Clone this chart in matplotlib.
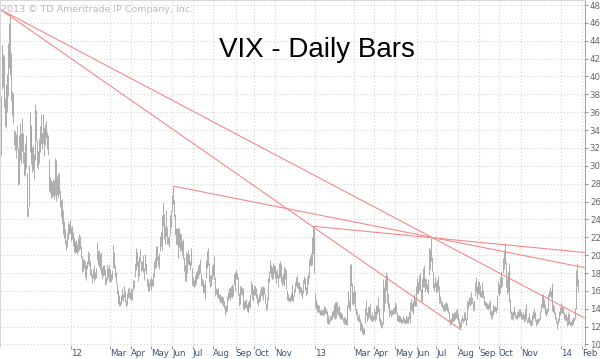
import numpy as np
import pandas as pd
import matplotlib
matplotlib.use("Agg")
import matplotlib.pyplot as plt

# trading calendar of the chart (NYSE closed days inside the range)
first_day = "2011-09-20"
last_axis_day = "2014-02-07"
holidays = ["2011-11-24", "2011-12-26", "2012-01-02", "2012-01-16", "2012-02-20",
            "2012-04-06", "2012-05-28", "2012-07-04", "2012-09-03", "2012-10-29",
            "2012-10-30", "2012-11-22", "2012-12-25", "2013-01-01", "2013-01-21",
            "2013-02-18", "2013-03-29", "2013-05-27", "2013-07-04", "2013-09-02",
            "2013-11-28", "2013-12-25", "2014-01-01", "2014-01-20"]

# daily VIX highs, one row per month
highs = [
    33.5, 37.8, 43.5, 42.5, 42.3, 37.6, 39.2, 40.3, 43.8,  # 2011 Sep
    46.0, 46.9, 42.6, 38.4, 38.2, 34.0, 33.9, 33.6, 34.5, 32.0, 33.5, 34.8, 33.7, 35.4, 33.7, 31.5, 32.5, 33.4, 29.2, 25.3, 30.1,
    36.0, 34.5, 34.6, 32.1, 32.3, 31.3, 36.9, 36.3, 32.9, 31.7, 33.1, 34.5, 35.8, 33.7, 35.8, 34.2, 34.7, 35.0, 33.8, 33.4, 30.8,
    28.7, 28.4, 28.2, 28.5, 28.4, 30.9, 30.7, 28.9, 29.2, 29.2, 27.3, 26.2, 26.3, 25.1, 23.8, 22.9, 21.7, 22.5, 23.7, 23.5, 23.9,
    23.2, 23.3, 22.6, 21.9, 21.6, 21.2, 21.7, 21.3, 21.9, 22.4, 22.1, 21.0, 19.9, 19.6, 19.6, 19.3, 18.9, 19.4, 20.5, 20.2,  # 2012 Jan
    19.3, 18.5, 17.9, 18.4, 18.9, 18.1, 18.6, 21.5, 20.5, 20.6, 20.1, 20.3, 18.7, 18.9, 18.9, 18.5, 17.5, 19.0, 18.6, 18.9,
    18.4, 17.9, 18.3, 21.1, 20.4, 18.9, 18.1, 16.9, 16.1, 15.7, 15.5, 14.9, 15.5, 16.3, 15.6, 16.5, 16.0, 15.0, 15.8, 16.3, 16.4, 15.9,
    16.3, 16.2, 17.2, 17.2, 19.1, 20.8, 20.3, 19.3, 19.8, 20.7, 19.3, 19.4, 20.0, 18.6, 20.1, 19.1, 17.4, 17.3, 16.9, 17.3,
    17.6, 17.3, 18.0, 19.4, 19.7, 21.0, 21.0, 19.9, 20.2, 22.1, 22.6, 22.6, 24.5, 25.9, 24.6, 23.3, 25.0, 23.1, 22.0, 22.3, 24.5, 25.1,
    26.7, 27.73, 26.2, 24.6, 23.0, 23.0, 23.0, 23.0, 22.5, 22.4, 21.6, 21.8, 19.8, 18.9, 20.4, 20.2, 20.6, 20.1, 19.4, 20.8, 18.6,
    17.6, 17.2, 17.8, 18.1, 18.3, 18.9, 19.0, 19.6, 18.0, 17.4, 17.2, 16.8, 16.1, 17.2, 19.5, 20.5, 20.8, 19.1, 17.8, 17.8, 18.9,
    19.0, 19.9, 17.6, 16.3, 16.2, 16.3, 15.6, 15.7, 15.4, 15.4, 15.3, 14.9, 14.3, 14.4, 15.4, 15.9, 16.3, 16.3, 16.5, 16.8, 16.5, 17.9, 18.1,
    18.3, 18.0, 17.5, 15.8, 16.5, 16.5, 16.3, 16.3, 14.9, 15.0, 15.1, 14.5, 14.7, 14.6, 15.0, 15.6, 17.1, 16.8, 16.2,
    16.7, 16.6, 16.3, 15.6, 15.2, 15.6, 16.1, 16.6, 16.4, 16.5, 16.4, 15.6, 14.6, 15.3, 17.4, 18.2, 19.5, 18.9, 18.7, 19.1, 18.9,
    18.8, 18.2, 18.5, 17.9, 19.1, 19.4, 19.0, 17.7, 18.0, 18.7, 18.6, 18.3, 16.1, 15.6, 15.3, 15.4, 15.8, 15.9, 16.8, 15.5, 16.2,
    17.0, 17.5, 17.8, 17.0, 17.0, 16.6, 16.4, 16.1, 17.2, 17.7, 17.4, 16.4, 17.5, 17.9, 19.6, 19.9, 20.2, 22.0, 23.23, 22.9,
    15.8, 15.1, 14.6, 14.4, 14.4, 13.9, 14.0, 13.9, 14.0, 14.3, 14.2, 14.0, 13.8, 13.3, 12.9, 13.2, 13.3, 13.8, 13.9, 14.5, 14.7,  # 2013 Jan
    14.3, 14.8, 14.9, 14.2, 14.4, 13.6, 13.6, 13.4, 13.0, 13.1, 13.1, 12.9, 14.4, 16.0, 15.0, 19.0, 19.0, 16.9, 15.9,
    16.6, 16.0, 14.1, 13.8, 13.2, 13.4, 12.9, 12.5, 12.3, 11.8, 11.9, 14.1, 15.0, 13.6, 14.3, 14.2, 14.6, 13.3, 13.6, 13.2,
    14.1, 13.7, 14.4, 14.4, 15.3, 14.1, 13.5, 13.0, 12.7, 12.5, 17.3, 16.4, 17.3, 18.1, 17.8, 15.6, 14.6, 13.9, 13.9, 13.9, 14.1, 14.2,
    14.7, 14.5, 13.6, 13.3, 13.3, 13.2, 13.0, 12.9, 13.2, 13.0, 12.9, 13.3, 13.1, 13.2, 13.6, 14.7, 15.1, 14.6, 14.9, 15.6, 15.1, 16.5,
    17.4, 17.0, 17.8, 18.0, 16.2, 15.6, 17.4, 18.6, 18.9, 17.4, 17.3, 16.8, 17.3, 20.9, 20.7, 21.91, 19.8, 18.1, 16.9, 17.5,
    17.0, 17.2, 17.7, 16.6, 15.4, 15.0, 14.8, 14.4, 14.5, 14.6, 14.7, 14.6, 14.2, 13.6, 12.8, 13.0, 13.5, 13.5, 13.6, 13.6, 13.9, 14.1,
    13.4, 12.9, 12.5, 12.9, 13.3, 13.0, 13.6, 13.6, 13.0, 12.9, 15.0, 14.9, 15.3, 15.3, 15.9, 15.3, 14.8, 15.0, 17.0, 17.6, 16.5, 17.1,
    17.1, 16.7, 16.0, 17.0, 16.1, 15.4, 14.9, 14.7, 14.6, 14.5, 14.7, 15.0, 13.8, 13.9, 14.4, 14.3, 14.3, 14.2, 15.5, 17.1,
    16.8, 17.5, 18.2, 17.6, 19.7, 20.6, 21.34, 19.2, 17.4, 18.1, 19.1, 18.3, 15.1, 13.8, 13.6, 13.8, 14.3, 13.6, 13.3, 13.6, 13.7, 14.0, 14.0,
    13.8, 13.4, 13.6, 13.4, 14.0, 14.5, 12.9, 13.1, 13.5, 12.8, 12.7, 13.3, 13.7, 14.1, 13.6, 12.8, 12.9, 13.0, 13.0, 13.8,
    14.5, 15.6, 15.6, 15.1, 14.5, 14.0, 14.1, 15.7, 16.0, 16.4, 16.0, 16.9, 16.3, 14.5, 14.3, 13.6, 13.1, 12.6, 13.0, 13.7, 14.2,
    14.6, 14.3, 14.2, 13.6, 13.4, 13.4, 13.1, 13.6, 13.4, 12.6, 12.6, 12.9, 13.1, 13.0, 14.1, 18.3, 19.1, 17.3,  # 2014 Jan
]

# daily VIX lows, same layout
lows = [
    30.6, 31.1, 38.6, 38.8, 36.5, 34.5, 34.2, 36.0, 37.8,
    41.0, 40.2, 37.3, 35.6, 34.8, 32.3, 31.8, 30.9, 31.9, 27.9, 28.0, 30.7, 30.3, 31.7, 30.3, 28.9, 29.0, 29.7, 24.4, 24.3, 25.5,
    31.6, 31.4, 30.2, 29.3, 29.5, 28.5, 30.7, 32.8, 29.9, 29.6, 30.3, 31.6, 32.4, 31.9, 32.6, 31.1, 32.3, 33.1, 31.9, 31.2, 27.2,
    27.0, 26.4, 26.5, 26.6, 26.3, 26.7, 26.1, 26.7, 26.4, 26.8, 25.4, 24.3, 23.5, 22.4, 21.9, 21.3, 20.6, 20.9, 21.8, 22.4, 22.5,
    21.6, 21.8, 21.0, 20.4, 20.5, 20.2, 20.3, 20.1, 20.3, 20.6, 20.7, 19.7, 18.1, 18.2, 18.6, 17.6, 17.2, 18.4, 19.0, 18.8,
    17.8, 17.6, 16.9, 17.4, 17.1, 17.3, 17.4, 19.5, 18.9, 18.7, 18.5, 17.9, 17.3, 17.7, 17.8, 16.7, 16.8, 17.2, 17.5, 17.0,
    17.1, 17.0, 17.3, 18.6, 18.6, 17.6, 16.9, 15.6, 14.6, 14.6, 14.3, 14.3, 14.5, 15.0, 14.9, 15.3, 14.8, 14.2, 14.4, 15.2, 15.3, 15.1,
    15.0, 15.0, 16.1, 16.3, 17.5, 18.3, 18.8, 17.1, 17.7, 19.2, 18.2, 18.3, 18.1, 17.2, 18.3, 17.9, 16.6, 16.0, 16.0, 16.6,
    16.1, 16.5, 16.6, 17.5, 18.6, 18.6, 19.5, 18.8, 18.5, 20.5, 21.0, 20.6, 21.8, 23.3, 21.8, 21.3, 22.1, 21.3, 21.2, 20.9, 22.3, 23.1,
    24.9, 25.7, 24.3, 22.2, 21.3, 21.1, 19.7, 20.9, 20.5, 20.6, 20.0, 19.6, 18.2, 17.1, 17.1, 18.0, 19.0, 18.9, 18.3, 18.9, 16.7,
    16.6, 16.4, 16.6, 16.8, 17.3, 17.4, 17.8, 18.0, 16.6, 16.6, 15.8, 15.9, 15.1, 15.4, 17.4, 18.6, 18.9, 17.0, 16.4, 16.6, 17.3,
    17.8, 17.3, 15.4, 15.6, 15.3, 15.2, 15.0, 14.6, 14.7, 14.5, 14.3, 14.1, 13.3, 13.6, 13.7, 15.0, 15.2, 15.0, 15.3, 15.2, 15.4, 16.7, 16.0,
    17.3, 17.3, 15.5, 14.3, 14.5, 15.7, 15.5, 14.0, 13.9, 14.1, 14.1, 13.7, 13.6, 13.6, 14.2, 14.1, 15.6, 15.1, 14.9,
    15.5, 15.5, 15.2, 14.6, 14.3, 14.8, 14.9, 15.5, 15.4, 15.0, 15.6, 14.6, 13.9, 14.0, 15.0, 17.0, 18.0, 17.6, 17.3, 17.3, 18.0,
    17.4, 16.9, 17.4, 16.4, 17.4, 17.5, 17.0, 16.6, 16.8, 16.6, 17.3, 16.2, 15.0, 14.9, 14.9, 14.8, 15.0, 14.9, 15.1, 14.9, 15.4,
    15.9, 16.5, 16.3, 16.2, 15.7, 15.9, 15.5, 15.2, 15.8, 16.8, 16.1, 15.5, 15.6, 16.8, 17.4, 18.9, 18.8, 18.9, 20.1, 18.0,
    14.2, 14.0, 13.6, 13.6, 13.5, 13.3, 13.3, 13.3, 13.3, 13.3, 13.5, 13.4, 12.4, 12.3, 12.3, 12.6, 12.7, 12.9, 13.2, 13.0, 13.8,
    12.8, 13.0, 13.5, 13.3, 13.1, 12.8, 12.9, 12.8, 12.5, 12.3, 12.3, 12.2, 12.2, 14.2, 14.0, 13.8, 16.6, 14.5, 14.4,
    14.6, 13.9, 13.3, 12.7, 12.6, 12.5, 11.5, 11.6, 11.3, 11.05, 11.2, 12.4, 13.3, 12.6, 12.9, 13.1, 12.8, 12.6, 12.6, 12.6,
    12.9, 12.6, 12.9, 13.4, 13.6, 13.1, 12.6, 12.2, 12.0, 11.8, 12.3, 13.8, 14.6, 16.1, 14.6, 14.1, 13.1, 13.4, 13.1, 13.3, 13.4, 13.4,
    13.5, 13.5, 12.6, 12.6, 12.5, 12.5, 12.4, 12.4, 12.5, 12.4, 12.3, 12.4, 12.4, 12.4, 12.8, 12.4, 13.9, 13.6, 13.4, 14.3, 14.3, 14.3,
    15.8, 15.6, 16.1, 16.0, 14.9, 14.9, 15.7, 16.4, 16.4, 15.9, 16.2, 15.9, 15.6, 17.8, 18.4, 19.4, 18.1, 16.3, 16.0, 16.4,
    15.9, 15.9, 16.1, 14.6, 14.6, 14.3, 14.1, 13.7, 13.8, 13.7, 13.9, 13.7, 13.5, 12.5, 12.2, 12.3, 12.5, 12.6, 12.6, 12.9, 13.0, 12.9,
    12.6, 11.9, 11.8, 12.0, 12.6, 12.4, 12.6, 12.7, 12.2, 12.2, 12.9, 14.0, 14.4, 14.3, 14.5, 14.6, 13.9, 13.7, 15.4, 15.9, 15.1, 15.6,
    15.6, 15.3, 15.3, 15.3, 15.2, 14.4, 14.3, 14.1, 14.0, 13.9, 14.1, 13.3, 12.8, 13.0, 13.3, 13.6, 13.7, 13.5, 13.9, 15.6,
    15.4, 15.8, 16.3, 16.5, 18.0, 18.4, 19.0, 16.4, 15.6, 15.9, 16.1, 14.7, 13.5, 12.9, 12.9, 12.7, 13.3, 13.0, 12.9, 12.9, 13.1, 13.1, 13.2,
    12.8, 12.8, 12.9, 12.5, 12.6, 12.8, 12.4, 12.5, 12.4, 12.2, 12.1, 12.2, 12.9, 13.0, 12.6, 12.1, 12.3, 12.4, 12.6, 12.9,
    13.6, 14.2, 14.1, 14.1, 13.4, 13.2, 13.4, 13.7, 15.3, 15.4, 15.2, 15.5, 13.7, 13.6, 13.4, 12.9, 12.4, 11.7, 12.3, 12.6, 13.3,
    13.5, 13.5, 13.4, 12.8, 12.6, 12.7, 12.1, 12.2, 12.3, 12.1, 12.2, 12.1, 12.3, 12.6, 12.9, 14.0, 16.5, 15.9,
]

# month axis labels (first trading day of these months)
label_months = ["2012-01", "2012-03", "2012-04", "2012-05", "2012-06", "2012-07", "2012-08",
                "2012-09", "2012-10", "2012-11", "2013-01", "2013-03", "2013-04", "2013-05",
                "2013-06", "2013-07", "2013-08", "2013-09", "2013-10", "2013-11", "2014-01",
                "2014-02"]
label_text = ["12", "Mar", "Apr", "May", "Jun", "Jul", "Aug", "Sep", "Oct", "Nov", "13",
              "Mar", "Apr", "May", "Jun", "Jul", "Aug", "Sep", "Oct", "Nov", "14", "Feb"]

# hand drawn trend lines: (date, value) pairs
trend_lines = [
    (("2011-09-21", 47.45), ("2014-02-06", 12.95)),
    (("2011-09-21", 47.45), ("2013-08-07", 11.6)),
    (("2012-06-04", 27.73), ("2014-02-06", 18.6)),
    (("2012-12-28", 23.23), ("2014-02-06", 20.3)),
]

days = pd.bdate_range(first_day, last_axis_day)
days = days[~days.isin(pd.to_datetime(holidays))]
pos = pd.Series(np.arange(len(days)), index=days)

fig = plt.figure(figsize=(6, 3.59), dpi=100)
ax = fig.add_axes([0, 13 / 359, 585 / 600, 346 / 359])

n = len(highs)
ax.vlines(np.arange(n), lows, highs, color="#a0a0a0", linewidth=0.6)

for (d0, v0), (d1, v1) in trend_lines:
    ax.plot([pos[pd.Timestamp(d0)], pos[pd.Timestamp(d1)]], [v0, v1],
            color="#f28a8a", linewidth=0.8, solid_capstyle="butt")

month_first = days.to_series().groupby(days.to_period("M")).min()
tick_x = [pos[month_first[pd.Period(m)]] for m in label_months]
ax.set_xticks(tick_x)
ax.set_xticklabels(label_text, ha="left")
for t in ax.get_xticklabels():
    t.set_color("#3f4f72")
    t.set_fontsize(6.2)

ax.set_yticks(np.arange(10, 49, 2))
ax.yaxis.tick_right()
ax.tick_params(axis="y", labelsize=6.2, labelcolor="#666666", length=2, color="#999999", pad=1.5)
ax.tick_params(axis="x", length=2, color="#999999", pad=0.5)

ax.set_xlim(-0.22, 598.25)
ax.set_ylim(9.83, 48.56)
ax.grid(True, color="#d4d4d4", linestyle=(0, (1, 2)), linewidth=0.8)
ax.set_axisbelow(True)
for side in ["left", "top"]:
    ax.spines[side].set_color("#d8d8d8")
ax.spines["right"].set_color("#a8a8a8")
ax.spines["bottom"].set_visible(False)

fig.text(0.529, 1 - 57 / 359, "VIX - Daily Bars", ha="center", va="baseline",
         fontsize=20, family="Liberation Sans", color="black")
fig.text(0.001, 1 - 10 / 359, "2013 \u00a9 TD Ameritrade IP Company, Inc.", ha="left",
         va="center", fontsize=6.8, color="#bbbbbb")

fig.savefig("out.png", dpi=100)
